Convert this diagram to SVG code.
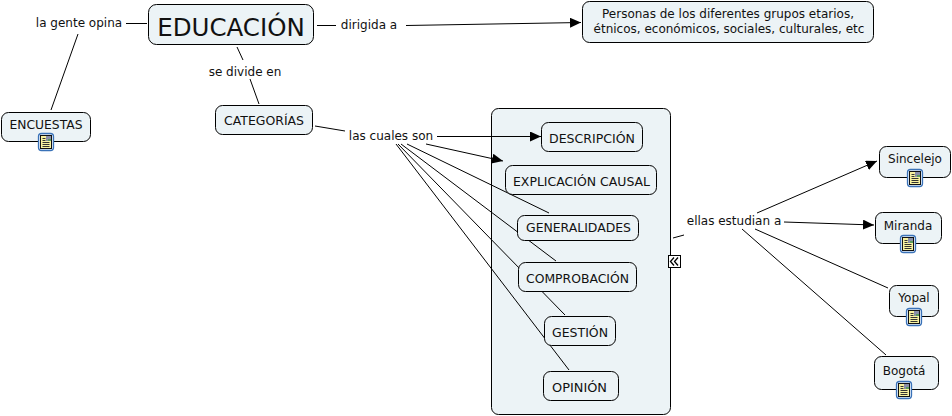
<svg xmlns="http://www.w3.org/2000/svg" width="952" height="416" viewBox="0 0 952 416">
<style>
text{font-family:Verdana,"DejaVu Sans",sans-serif;font-size:12px;fill:#111;text-anchor:middle}
.n{fill:#ecf3f6;stroke:#000;stroke-width:1}
#connectors line{stroke:#000;stroke-width:1}
.a{marker-end:url(#arrow)}
</style>
<defs>
<marker id="arrow" markerUnits="userSpaceOnUse" markerWidth="12" markerHeight="12" refX="11" refY="5" orient="auto"><path d="M0 0L11 5L0 10Z" fill="#000"/></marker>
<g id="icon">
<rect x="-7.500" y="-8.500" width="15" height="17" rx="3" fill="#e4eef8" stroke="#3a72b8" stroke-width="1.300"/>
<rect x="-5.500" y="-6.500" width="11" height="13" fill="#f8f2a0" stroke="#111"/>
<path d="M-3.500-3.500h3M-3.500-1.500h3M-3.500 .5h7M-3.500 2.500h7M-3.500 4.500h7" stroke="#333" stroke-width="1"/>
<rect x="0" y="-6" width="5" height="5" fill="#8a8fa8"/>
<rect x="2" y="-3" width="3" height="2" fill="#5c9c5c"/>
</g>
</defs>
<rect id="panel" class="n" x="491.500" y="108.500" width="179" height="306" rx="7"/>
<g id="connectors">
<line x1="126" y1="23.500" x2="147" y2="23.500"/>
<line x1="78" y1="34" x2="51" y2="110"/>
<line x1="317" y1="25.500" x2="336" y2="25.500"/>
<line class="a" x1="406" y1="25.500" x2="581" y2="22.500"/>
<line x1="237" y1="47" x2="243" y2="60"/>
<line x1="250" y1="79" x2="259" y2="104"/>
<line x1="315" y1="126" x2="345" y2="131"/>
<line class="a" x1="437" y1="136.500" x2="541" y2="136.500"/>
<line class="a" x1="426" y1="144" x2="503" y2="161"/>
<line x1="407" y1="144" x2="549" y2="213"/>
<line x1="401" y1="144" x2="556" y2="261"/>
<line x1="398" y1="144" x2="565" y2="315"/>
<line x1="396" y1="144" x2="569" y2="370"/>
<line x1="673" y1="238" x2="684" y2="235"/>
<line class="a" x1="757" y1="213" x2="877" y2="161"/>
<line class="a" x1="784" y1="222" x2="874" y2="225"/>
<line x1="755" y1="229" x2="888" y2="288"/>
<line x1="742" y1="229" x2="886" y2="355"/>
</g>
<g id="lbl-opina"><text x="79" y="27">la gente opina</text></g>
<g id="lbl-dirigida"><text x="369" y="29">dirigida a</text></g>
<g id="lbl-divide"><text x="245" y="76">se divide en</text></g>
<g id="lbl-cuales"><text x="391" y="140">las cuales son</text></g>
<g id="lbl-ellas"><text x="734" y="225">ellas estudian a</text></g>
<g id="educacion"><rect class="n" x="148.500" y="4.500" width="165" height="40" rx="8"/><text x="231" y="36" style="font-size:24.500px">EDUCACIÓN</text></g>
<g id="encuestas"><rect class="n" x="1.500" y="112.500" width="89" height="29" rx="7"/><text x="46" y="129" textLength="73" lengthAdjust="spacingAndGlyphs">ENCUESTAS</text><use href="#icon" x="46" y="142"/></g>
<g id="personas"><rect class="n" x="582.500" y="1.500" width="291" height="41" rx="7"/><text x="728" y="18">Personas de los diferentes grupos etarios,</text><text x="729" y="33">étnicos, económicos, sociales, culturales, etc</text></g>
<g id="categorias"><rect class="n" x="215.500" y="105.500" width="97" height="29" rx="7"/><text x="264" y="125" textLength="80" lengthAdjust="spacingAndGlyphs">CATEGORÍAS</text></g>
<g id="descripcion"><rect class="n" x="541.500" y="122.500" width="101" height="29" rx="7"/><text x="592" y="143" textLength="86" lengthAdjust="spacingAndGlyphs">DESCRIPCIÓN</text></g>
<g id="explicacion"><rect class="n" x="505.500" y="165.500" width="151" height="29" rx="7"/><text x="581.500" y="186" textLength="137" lengthAdjust="spacingAndGlyphs">EXPLICACIÓN CAUSAL</text></g>
<g id="generalidades"><rect class="n" x="517.500" y="215.500" width="121" height="25" rx="7"/><text x="578.500" y="232" textLength="105" lengthAdjust="spacingAndGlyphs">GENERALIDADES</text></g>
<g id="comprobacion"><rect class="n" x="518.500" y="262.500" width="118" height="29" rx="7"/><text x="577.500" y="283" textLength="103" lengthAdjust="spacingAndGlyphs">COMPROBACIÓN</text></g>
<g id="gestion"><rect class="n" x="544.500" y="316.500" width="71" height="29" rx="7"/><text x="580" y="337" textLength="56" lengthAdjust="spacingAndGlyphs">GESTIÓN</text></g>
<g id="opinion"><rect class="n" x="543.500" y="371.500" width="75" height="29" rx="7"/><text x="579.500" y="392" textLength="55" lengthAdjust="spacingAndGlyphs">OPINIÓN</text></g>
<g id="collapse"><rect x="668.500" y="255.500" width="12" height="12" fill="#fff" stroke="#000"/><path d="M674 257.500l-3.500 4 3.500 4M678 257.500l-3.500 4 3.500 4" fill="none" stroke="#000" stroke-width="1.300"/></g>
<g id="sincelejo"><rect class="n" x="879.500" y="146.500" width="71" height="31" rx="7"/><text x="915" y="163">Sincelejo</text><use href="#icon" x="915" y="178"/></g>
<g id="miranda"><rect class="n" x="875.500" y="212.500" width="66" height="31" rx="7"/><text x="908" y="230">Miranda</text><use href="#icon" x="908" y="244"/></g>
<g id="yopal"><rect class="n" x="889.500" y="285.500" width="49" height="31" rx="7"/><text x="914" y="302">Yopal</text><use href="#icon" x="914" y="317"/></g>
<g id="bogota"><rect class="n" x="874.500" y="356.500" width="64" height="33" rx="7"/><text x="904" y="375">Bogotá</text><use href="#icon" x="904" y="390"/></g>
</svg>
